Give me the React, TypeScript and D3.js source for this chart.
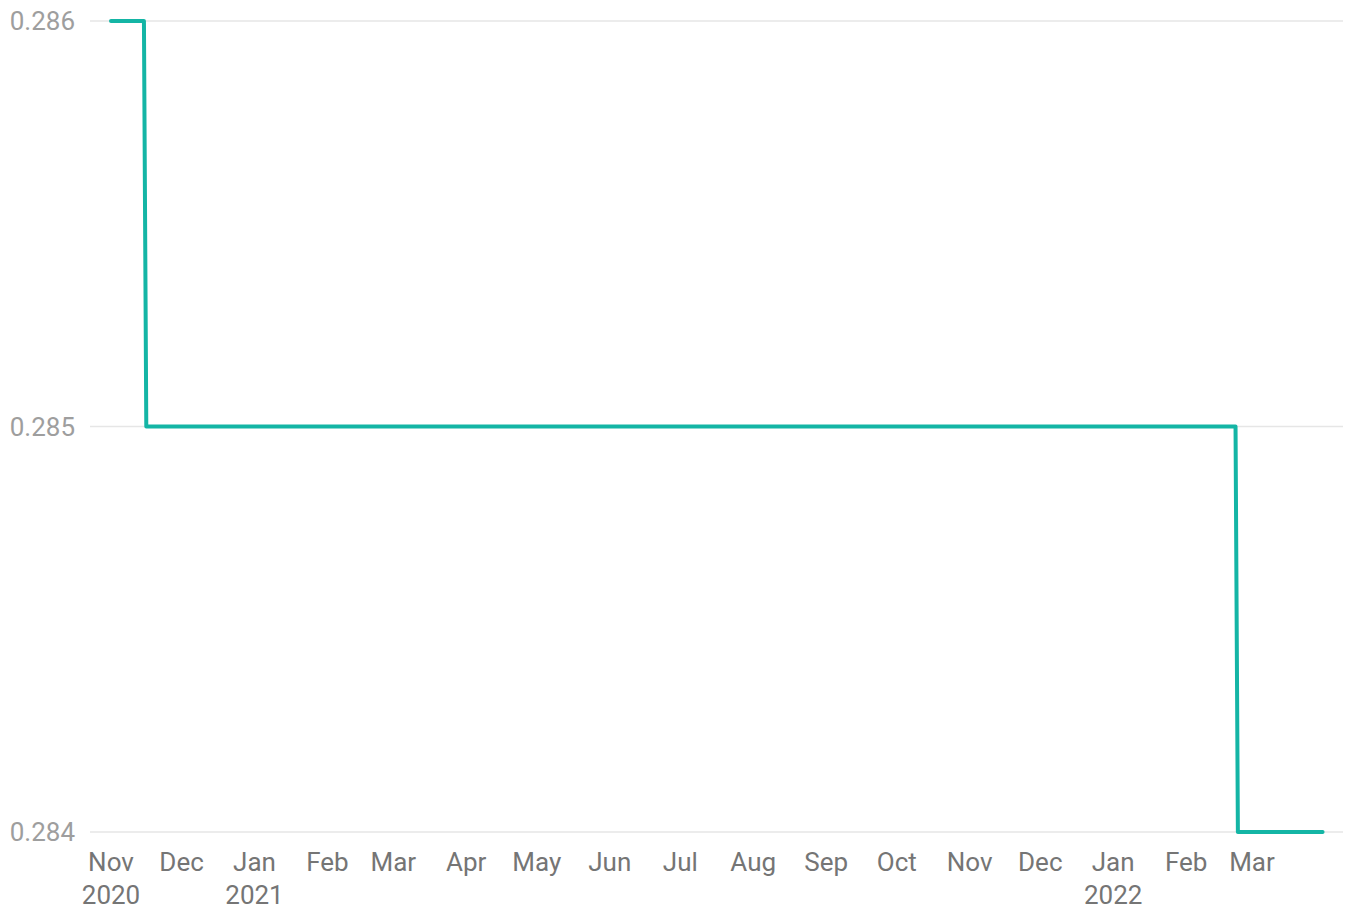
import React, { useEffect, useRef } from "react";
import * as d3 from "d3";

// change points of the step series (ISO dates)
const dates = ["2020-11-01", "2020-11-15", "2020-11-16", "2022-02-22", "2022-02-23", "2022-03-31"];
const values = [0.286, 0.286, 0.285, 0.285, 0.284, 0.284];
const yTicks = [0.284, 0.285, 0.286];
const xStart = "2020-11-01";
const xEnd = "2022-03-01";

export default function App() {
    const ref = useRef<SVGSVGElement | null>(null);

    useEffect(() => {
        const width = 1347;
        const height = 909;
        const parse = d3.utcParse("%Y-%m-%d");
        const data = dates.map((d, i) => ({ date: parse(d) as Date, value: values[i] }));

        const x = d3
            .scaleUtc()
            .domain([parse(xStart) as Date, parse(xEnd) as Date])
            .range([111, 1252]);
        const y = d3.scaleLinear().domain([0.284, 0.286]).range([832, 21]);

        const svg = d3.select(ref.current);
        svg.selectAll("*").remove();
        svg.attr("width", width).attr("height", height);

        const font = "Roboto, 'Noto Sans', sans-serif";

        // grid + y labels
        const gy = svg.append("g");
        gy.selectAll("line")
            .data(yTicks)
            .join("line")
            .attr("x1", 90)
            .attr("x2", 1343)
            .attr("y1", (d) => y(d))
            .attr("y2", (d) => y(d))
            .attr("stroke", "#e6e6e6")
            .attr("stroke-width", 1.5);
        gy.selectAll("text")
            .data(yTicks)
            .join("text")
            .attr("x", 75)
            .attr("y", (d) => y(d))
            .attr("dy", "0.35em")
            .attr("text-anchor", "end")
            .attr("font-family", font)
            .attr("font-size", 26)
            .attr("fill", "#9e9e9e")
            .text((d) => d3.format(".3f")(d));

        // x labels, one per month up to Mar 2022
        const months = d3.utcMonth.range(parse(xStart) as Date, d3.utcDay.offset(parse(xEnd) as Date, 1));
        const gx = svg.append("g");
        const lbl = gx
            .selectAll("text")
            .data(months)
            .join("text")
            .attr("x", (d) => x(d))
            .attr("y", 871)
            .attr("text-anchor", "middle")
            .attr("font-family", font)
            .attr("font-size", 26)
            .attr("fill", "#757575");
        lbl.append("tspan").text((d) => d3.utcFormat("%b")(d));
        lbl.filter((d, i) => i === 0 || d.getUTCMonth() === 0)
            .append("tspan")
            .attr("x", (d) => x(d))
            .attr("dy", 33)
            .text((d) => d3.utcFormat("%Y")(d));

        // step line
        const line = d3
            .line<{ date: Date; value: number }>()
            .x((d) => x(d.date))
            .y((d) => y(d.value));
        svg.append("path")
            .datum(data)
            .attr("d", line)
            .attr("fill", "none")
            .attr("stroke", "#14b5a5")
            .attr("stroke-width", 4)
            .attr("stroke-linecap", "round")
            .attr("stroke-linejoin", "round");
    }, []);

    return (
        <div style={{ position: "absolute", left: 0, top: 0 }}>
            <svg ref={ref} style={{ display: "block" }}></svg>
        </div>
    );
}
